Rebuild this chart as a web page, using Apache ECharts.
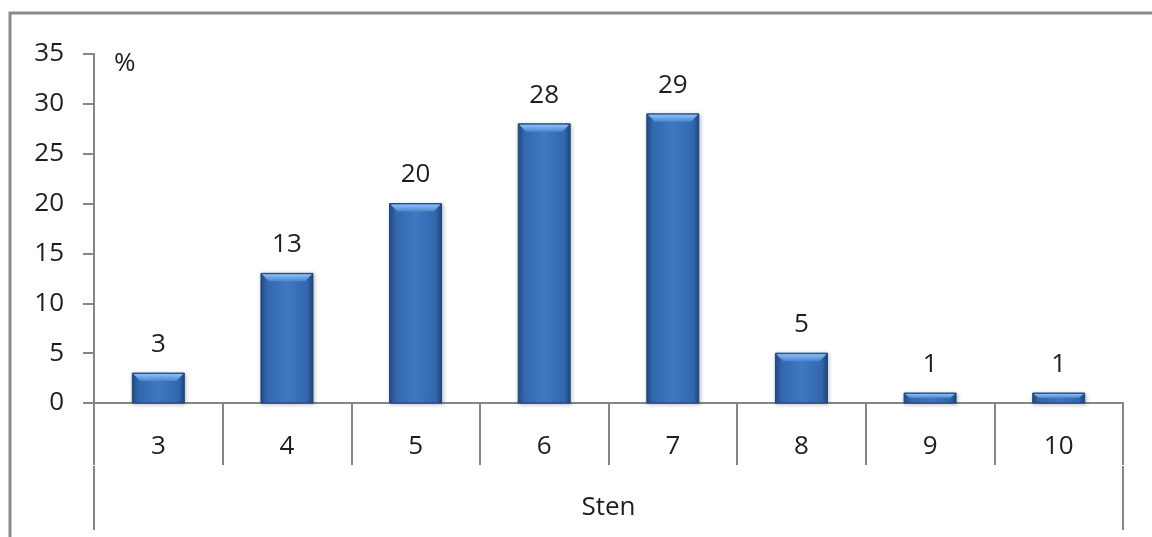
<!DOCTYPE html>
<html>
<head>
<meta charset="utf-8">
<script src="https://cdn.jsdelivr.net/npm/echarts@6/dist/echarts.min.js"></script>
<style>
  html, body { margin: 0; padding: 0; background: #fff; }
  #chart { width: 1152px; height: 537px; }
</style>
</head>
<body>
<div id="chart"></div>
<script>
// Sten score distribution (percent of respondents)
const stenCategories = ['3', '4', '5', '6', '7', '8', '9', '10'];
const percentValues = [3, 13, 20, 28, 29, 5, 1, 1];
const groupLabel = ['Sten'];
const yTicks = { min: 0, max: 35, interval: 5 };

const FONT = '"Open Sans", "Noto Sans", sans-serif';
const FONT_SIZE = 26;
const AXIS_GREY = '#868686';
const TEXT = '#1e1e1e';
const BAR_WIDTH = 52;

const chart = echarts.init(document.getElementById('chart'));

const bodyFill = new echarts.graphic.LinearGradient(0, 0, 1, 0, [
  { offset: 0, color: '#214d89' },
  { offset: 0.12, color: '#3367ad' },
  { offset: 0.5, color: '#3f78c3' },
  { offset: 0.88, color: '#3367ad' },
  { offset: 1, color: '#1d4680' }
]);
const bevelFill = new echarts.graphic.LinearGradient(0, 0, 0, 1, [
  { offset: 0, color: '#8cc0f2' },
  { offset: 1, color: '#4a84cc' }
]);

// Bevelled bar: body rectangle with its value above, plus a light trapezoid along the top edge
function renderBar(params, api) {
  const value = api.value(1);
  const top = api.coord([api.value(0), value]);
  const base = api.coord([api.value(0), 0]);
  const x = top[0] - BAR_WIDTH / 2;
  const h = base[1] - top[1];
  const bevel = Math.min(8, h / 2);
  const inset = Math.min(7, bevel);
  return {
    type: 'group',
    children: [{
      type: 'rect',
      shape: { x: x, y: top[1], width: BAR_WIDTH, height: h },
      style: {
        fill: bodyFill,
        stroke: '#1d477f',
        lineWidth: 1,
        shadowColor: 'rgba(0,0,0,0.25)',
        shadowBlur: 4,
        shadowOffsetX: 1,
        shadowOffsetY: 1
      },
      textContent: {
        style: {
          text: String(value),
          fontFamily: FONT,
          fontSize: FONT_SIZE,
          fill: TEXT
        }
      },
      textConfig: { position: 'top', distance: 15 }
    }, {
      type: 'polygon',
      shape: {
        points: [
          [x + 1, top[1] + 1],
          [x + BAR_WIDTH - 1, top[1] + 1],
          [x + BAR_WIDTH - 1 - inset, top[1] + bevel],
          [x + 1 + inset, top[1] + bevel]
        ]
      },
      style: { fill: bevelFill }
    }]
  };
}

chart.setOption({
  animation: false,
  backgroundColor: '#fff',
  title: {
    text: '%',
    left: 109,
    top: 46,
    textStyle: { fontFamily: FONT, fontSize: FONT_SIZE, fontWeight: 'normal', color: TEXT }
  },
  graphic: [{
    type: 'rect',
    shape: { x: 10, y: 13, width: 1300, height: 700 },
    style: { fill: 'none', stroke: '#8a8a8a', lineWidth: 3 },
    silent: true,
    z: -1
  }],
  grid: { left: 94, right: 29, top: 54, bottom: 134, containLabel: false },
  xAxis: [{
    type: 'category',
    data: stenCategories,
    position: 'bottom',
    axisLine: { lineStyle: { color: AXIS_GREY, width: 2 } },
    axisTick: { show: true, alignWithLabel: false, length: 62, lineStyle: { color: AXIS_GREY, width: 2 } },
    axisLabel: { margin: 31, fontFamily: FONT, fontSize: FONT_SIZE, color: TEXT },
    splitLine: { show: false }
  }, {
    type: 'category',
    data: groupLabel,
    position: 'bottom',
    offset: 63,
    axisLine: { show: false },
    axisTick: { show: true, length: 64, lineStyle: { color: AXIS_GREY, width: 2 } },
    axisLabel: { margin: 29, fontFamily: FONT, fontSize: FONT_SIZE, color: TEXT },
    splitLine: { show: false }
  }],
  yAxis: {
    type: 'value',
    min: yTicks.min,
    max: yTicks.max,
    interval: yTicks.interval,
    axisLine: { show: true, lineStyle: { color: AXIS_GREY, width: 2 } },
    axisTick: { show: true, length: 11, lineStyle: { color: AXIS_GREY, width: 2 } },
    axisLabel: { margin: 30, fontFamily: FONT, fontSize: FONT_SIZE, color: TEXT },
    splitLine: { show: false }
  },
  series: [{
    type: 'custom',
    xAxisIndex: 0,
    renderItem: renderBar,
    encode: { x: 0, y: 1 },
    data: percentValues.map((v, i) => [i, v])
  }]
});
</script>
</body>
</html>
